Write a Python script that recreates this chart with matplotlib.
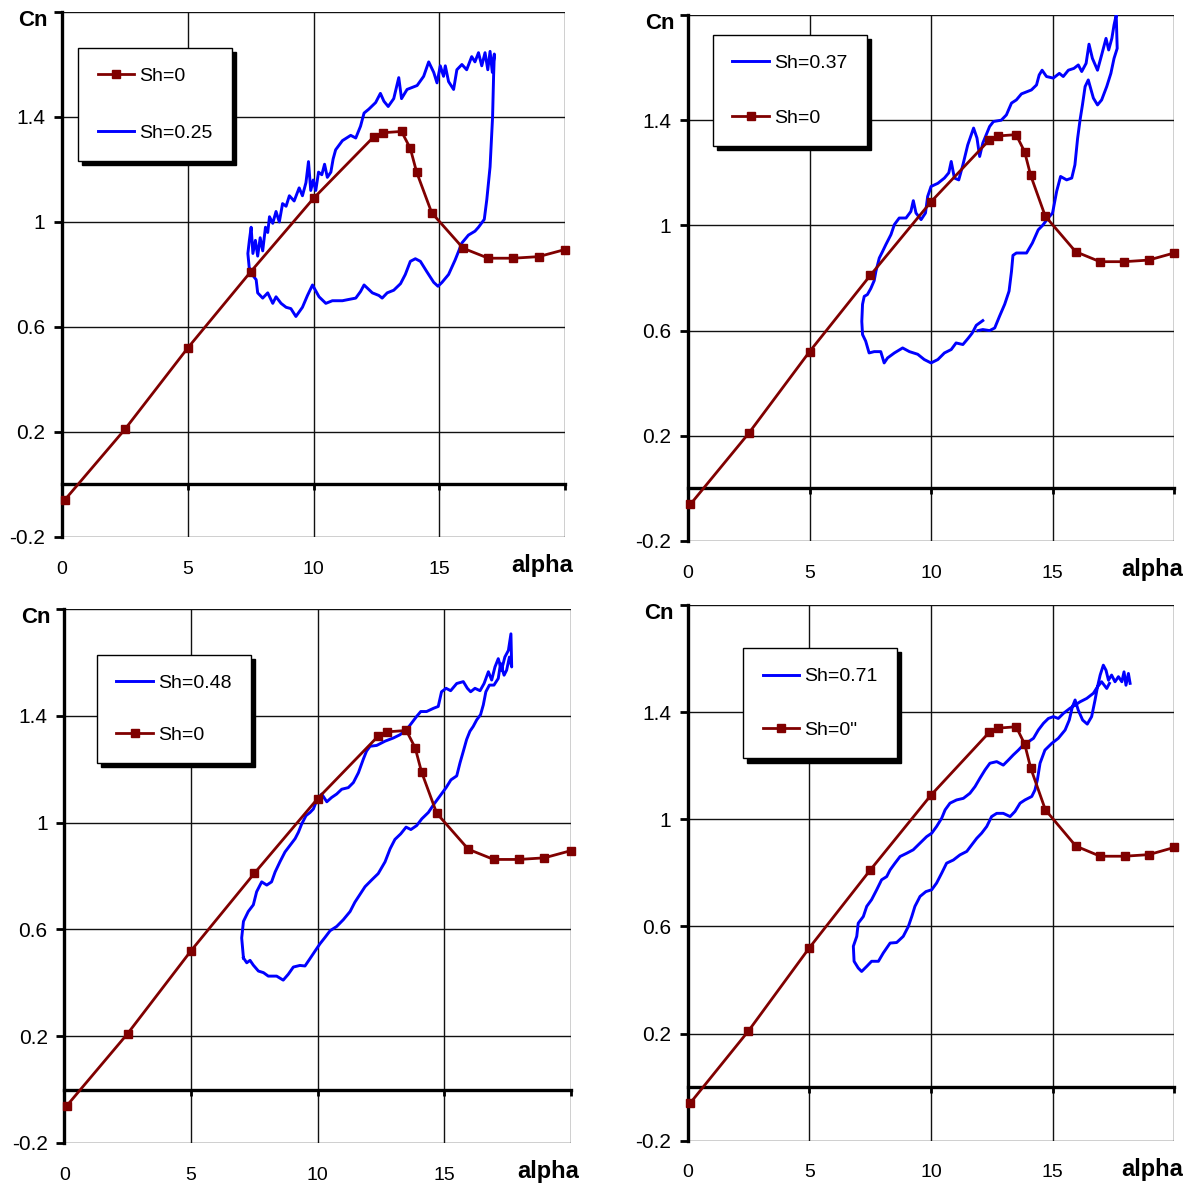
"""
Four panels: normal force coefficient Cn vs angle of attack alpha,
static curve (Sh=0) against dynamic hysteresis loops for several Sh.
"""

import matplotlib.pyplot as plt

plt.rcParams["font.family"] = ["Liberation Sans", "DejaVu Sans"]

BLUE = "#0000ff"
BROWN = "#800000"

ALPHA_TICKS = [0, 5, 10, 15, 20]
ALPHA_TICK_LABELS = ["0", "5", "10", "15"]
CN_TICKS = [-0.2, 0.2, 0.6, 1.0, 1.4, 1.8]
CN_TICK_LABELS = ["-0.2", "0.2", "0.6", "1", "1.4", ""]

# ----- static curve, Sh = 0 -----
SH0_ALPHA = [0.1, 2.5, 5.0, 7.5, 10.0, 12.4, 12.75, 13.5, 13.85, 14.1,
             14.7, 15.95, 16.95, 17.95, 18.95, 20.0]
SH0_CN = [-0.06, 0.21, 0.52, 0.81, 1.09, 1.325, 1.34, 1.345, 1.28, 1.19,
          1.035, 0.90, 0.862, 0.862, 0.868, 0.895]

# ----- Sh = 0.25 -----
SH025_ALPHA = [7.45, 7.39, 7.45, 7.52, 7.59, 7.69, 7.78, 7.88, 7.98, 8.09,
               8.18, 8.25, 8.38, 8.51, 8.64, 8.77, 8.91, 9.04, 9.23, 9.43,
               9.56, 9.70, 9.80, 9.89, 9.99, 10.09, 10.20, 10.33, 10.44, 10.55,
               10.69, 10.78, 10.88, 11.15, 11.48, 11.68, 11.87, 12.01, 12.20, 12.47,
               12.66, 12.80, 12.97, 13.19, 13.39, 13.50, 13.72, 14.12, 14.38, 14.58,
               14.78, 14.91, 15.04, 15.17, 15.24, 15.37, 15.57, 15.70, 15.90, 16.09,
               16.29, 16.42, 16.56, 16.69, 16.82, 16.93, 17.02, 17.11, 17.19, 17.16,
               17.12, 17.02, 16.89, 16.79, 16.56, 16.42, 16.16, 15.90, 15.63, 15.37,
               15.11, 14.95, 14.78, 14.51, 14.25, 14.05, 13.85, 13.65, 13.46, 13.19,
               12.93, 12.73, 12.60, 12.34, 12.01, 11.87, 11.68, 11.41, 11.15, 10.75,
               10.49, 10.22, 9.96, 9.76, 9.56, 9.30, 9.10, 8.91, 8.71, 8.51,
               8.38, 8.18, 7.98, 7.78, 7.72, 7.52, 7.45]
SH025_CN = [0.82, 0.88, 0.93, 0.98, 0.88, 0.93, 0.87, 0.94, 0.89, 0.98,
            0.96, 1.02, 0.995, 1.04, 1.00, 1.07, 1.06, 1.10, 1.08, 1.13,
            1.10, 1.15, 1.23, 1.12, 1.16, 1.12, 1.19, 1.18, 1.22, 1.17,
            1.19, 1.24, 1.275, 1.31, 1.33, 1.32, 1.365, 1.415, 1.43, 1.455,
            1.49, 1.46, 1.44, 1.47, 1.55, 1.47, 1.505, 1.52, 1.555, 1.61,
            1.57, 1.53, 1.595, 1.555, 1.595, 1.535, 1.505, 1.58, 1.60, 1.58,
            1.63, 1.61, 1.645, 1.595, 1.645, 1.58, 1.65, 1.57, 1.64, 1.555,
            1.40, 1.21, 1.085, 1.01, 0.98, 0.965, 0.95, 0.92, 0.855, 0.80,
            0.77, 0.755, 0.77, 0.81, 0.85, 0.86, 0.85, 0.80, 0.765, 0.74,
            0.73, 0.71, 0.72, 0.73, 0.76, 0.735, 0.71, 0.705, 0.70, 0.70,
            0.69, 0.715, 0.76, 0.72, 0.675, 0.64, 0.67, 0.675, 0.69, 0.715,
            0.69, 0.73, 0.71, 0.73, 0.78, 0.805, 0.82]

# ----- Sh = 0.37 -----
SH037_ALPHA = [12.13, 11.86, 11.69, 11.52, 11.31, 11.03, 10.83, 10.55, 10.28, 10.0,
               9.72, 9.45, 9.11, 8.83, 8.49, 8.21, 8.07, 7.93, 7.66, 7.45,
               7.31, 7.18, 7.15, 7.18, 7.25, 7.38, 7.52, 7.66, 7.73, 7.87,
               8.0, 8.14, 8.35, 8.49, 8.69, 8.97, 9.17, 9.27, 9.38, 9.59,
               9.77, 9.86, 10.0, 10.28, 10.55, 10.73, 10.83, 10.96, 11.14, 11.31,
               11.51, 11.75, 11.89, 12.0, 12.13, 12.41, 12.57, 12.89, 13.10, 13.31,
               13.51, 13.72, 14.13, 14.34, 14.45, 14.57, 14.75, 15.03, 15.28, 15.44,
               15.65, 15.88, 16.06, 16.20, 16.38, 16.50, 16.64, 16.85, 17.02, 17.20,
               17.31, 17.44, 17.53, 17.62, 17.66, 17.53, 17.40, 17.23, 17.02, 16.85,
               16.68, 16.47, 16.34, 16.23, 16.13, 16.03, 15.92, 15.79, 15.58, 15.33,
               15.17, 15.0, 14.82, 14.59, 14.41, 14.17, 13.93, 13.51, 13.37, 13.31,
               13.21, 13.03, 12.82, 12.62, 12.41, 12.13, 11.93]
SH037_CN = [0.638, 0.62, 0.59, 0.57, 0.547, 0.553, 0.528, 0.515, 0.49, 0.477,
            0.49, 0.51, 0.52, 0.534, 0.515, 0.496, 0.477, 0.52, 0.52, 0.515,
            0.56, 0.585, 0.635, 0.70, 0.73, 0.737, 0.76, 0.79, 0.825, 0.876,
            0.90, 0.927, 0.965, 1.003, 1.028, 1.028, 1.053, 1.094, 1.047, 1.022,
            1.047, 1.11, 1.148, 1.16, 1.18, 1.20, 1.243, 1.18, 1.173, 1.23,
            1.306, 1.37, 1.332, 1.262, 1.313, 1.376, 1.395, 1.40, 1.42, 1.465,
            1.477, 1.50, 1.515, 1.534, 1.572, 1.59, 1.566, 1.56, 1.578, 1.566,
            1.59, 1.597, 1.61, 1.585, 1.616, 1.689, 1.635, 1.59, 1.648, 1.711,
            1.667, 1.711, 1.762, 1.80, 1.673, 1.635, 1.578, 1.528, 1.477, 1.458,
            1.484, 1.553, 1.528, 1.458, 1.40, 1.33, 1.23, 1.18, 1.173, 1.186,
            1.13, 1.047, 1.028, 1.0, 0.983, 0.933, 0.895, 0.895, 0.886, 0.825,
            0.75, 0.70, 0.655, 0.61, 0.60, 0.604, 0.60]

# ----- Sh = 0.48 -----
SH048_ALPHA = [7.07, 7.0, 7.07, 7.26, 7.46, 7.59, 7.79, 7.99, 8.18, 8.32,
               8.51, 8.71, 8.91, 9.11, 9.24, 9.37, 9.54, 9.70, 9.83, 9.96,
               10.16, 10.36, 10.55, 10.75, 10.95, 11.21, 11.41, 11.61, 11.80, 11.93,
               12.07, 12.33, 12.66, 12.99, 13.25, 13.51, 13.71, 13.91, 14.07, 14.30,
               14.57, 14.76, 14.89, 15.07, 15.25, 15.49, 15.75, 15.91, 16.04, 16.21,
               16.41, 16.57, 16.74, 16.87, 17.0, 17.13, 17.26, 17.39, 17.53, 17.63,
               17.66, 17.57, 17.46, 17.36, 17.22, 17.13, 16.96, 16.78, 16.64, 16.54,
               16.43, 16.28, 16.14, 16.01, 15.88, 15.75, 15.62, 15.49, 15.26, 15.07,
               14.83, 14.59, 14.37, 14.11, 13.91, 13.68, 13.49, 13.28, 13.05, 12.86,
               12.66, 12.39, 12.13, 11.87, 11.67, 11.47, 11.28, 11.01, 10.75, 10.49,
               10.29, 10.09, 9.89, 9.70, 9.50, 9.30, 9.04, 8.84, 8.64, 8.38,
               8.05, 7.86, 7.66, 7.46, 7.33, 7.20, 7.07]
SH048_CN = [0.493, 0.568, 0.63, 0.667, 0.692, 0.741, 0.778, 0.766, 0.778, 0.815,
            0.853, 0.89, 0.915, 0.94, 0.964, 0.995, 1.026, 1.038, 1.051, 1.082,
            1.107, 1.078, 1.094, 1.107, 1.125, 1.131, 1.15, 1.187, 1.237, 1.268,
            1.286, 1.289, 1.305, 1.317, 1.329, 1.348, 1.373, 1.398, 1.416, 1.416,
            1.428, 1.435, 1.49, 1.503, 1.494, 1.521, 1.528, 1.503, 1.49, 1.503,
            1.494, 1.521, 1.565, 1.534, 1.583, 1.614, 1.571, 1.62, 1.645, 1.707,
            1.583, 1.62, 1.571, 1.552, 1.596, 1.54, 1.515, 1.515, 1.49, 1.441,
            1.404, 1.385, 1.36, 1.342, 1.311, 1.267, 1.224, 1.175, 1.16, 1.131,
            1.10, 1.069, 1.038, 1.014, 0.989, 0.974, 0.983, 0.958, 0.937, 0.902,
            0.853, 0.809, 0.785, 0.76, 0.731, 0.702, 0.667, 0.636, 0.611, 0.595,
            0.57, 0.546, 0.518, 0.491, 0.463, 0.465, 0.459, 0.432, 0.41, 0.425,
            0.425, 0.438, 0.444, 0.466, 0.484, 0.475, 0.493]

# ----- Sh = 0.71 -----
SH071_ALPHA = [18.18, 18.11, 18.01, 17.93, 17.84, 17.70, 17.56, 17.42, 17.29, 17.19,
               17.08, 16.95, 16.84, 16.67, 16.40, 16.12, 15.92, 15.71, 15.44, 15.23,
               15.03, 14.82, 14.62, 14.41, 14.21, 14.0, 13.79, 13.59, 13.38, 13.18,
               12.97, 12.70, 12.42, 12.22, 12.01, 11.81, 11.60, 11.33, 11.05, 10.78,
               10.58, 10.44, 10.23, 10.03, 9.82, 9.55, 9.27, 9.0, 8.73, 8.52,
               8.32, 8.18, 7.97, 7.77, 7.56, 7.36, 7.22, 7.01, 6.95, 6.81,
               6.84, 7.01, 7.15, 7.36, 7.56, 7.84, 8.04, 8.32, 8.59, 8.86,
               9.07, 9.21, 9.34, 9.55, 9.79, 10.03, 10.23, 10.44, 10.64, 10.92,
               11.19, 11.47, 11.67, 11.88, 12.08, 12.29, 12.49, 12.70, 12.97, 13.25,
               13.45, 13.66, 13.86, 14.14, 14.27, 14.37, 14.48, 14.68, 14.96, 15.23,
               15.51, 15.68, 15.81, 15.92, 16.05, 16.23, 16.42, 16.60, 16.74, 16.84,
               17.01, 17.22, 17.33]
SH071_CN = [1.507, 1.544, 1.50, 1.55, 1.513, 1.532, 1.513, 1.538, 1.519, 1.556,
            1.575, 1.538, 1.494, 1.47, 1.451, 1.438, 1.426, 1.414, 1.395, 1.376,
            1.383, 1.376, 1.358, 1.333, 1.302, 1.289, 1.277, 1.258, 1.24, 1.221,
            1.202, 1.215, 1.209, 1.184, 1.153, 1.122, 1.097, 1.078, 1.072, 1.06,
            1.035, 1.004, 0.973, 0.948, 0.935, 0.911, 0.886, 0.873, 0.861, 0.836,
            0.811, 0.786, 0.774, 0.737, 0.70, 0.675, 0.637, 0.612, 0.563, 0.526,
            0.47, 0.445, 0.432, 0.451, 0.47, 0.47, 0.501, 0.538, 0.54, 0.563,
            0.60, 0.637, 0.675, 0.712, 0.73, 0.737, 0.762, 0.799, 0.836, 0.848,
            0.867, 0.88, 0.904, 0.929, 0.948, 0.973, 1.01, 1.022, 1.022, 1.01,
            1.029, 1.06, 1.072, 1.085, 1.109, 1.147, 1.209, 1.258, 1.283, 1.302,
            1.333, 1.37, 1.42, 1.445, 1.407, 1.37, 1.355, 1.383, 1.445, 1.494,
            1.513, 1.488, 1.507]

# axes rectangles (figure fraction), legend anchor, label spacing
PANELS = [
    dict(rect=[0.0521, 0.5484, 0.4227, 0.4415], alpha=SH025_ALPHA, cn=SH025_CN,
         label="Sh=0.25", static="Sh=0", blue_first=False,
         anchor=(0.032, 0.931), spacing=2.0),
    dict(rect=[0.5782, 0.5450, 0.4084, 0.4424], alpha=SH037_ALPHA, cn=SH037_CN,
         label="Sh=0.37", static="Sh=0", blue_first=True,
         anchor=(0.051, 0.962), spacing=1.9),
    dict(rect=[0.0541, 0.0387, 0.4257, 0.4491], alpha=SH048_ALPHA, cn=SH048_CN,
         label="Sh=0.48", static="Sh=0", blue_first=True,
         anchor=(0.064, 0.914), spacing=1.75),
    dict(rect=[0.5778, 0.0405, 0.4091, 0.4508], alpha=SH071_ALPHA, cn=SH071_CN,
         label="Sh=0.71", static='Sh=0"', blue_first=True,
         anchor=(0.114, 0.919), spacing=1.85),
]


def style_axes(ax):
    ax.set_xlim(0, 20)
    ax.set_ylim(-0.2, 1.8)
    ax.set_xticks(ALPHA_TICKS)
    ax.set_yticks(CN_TICKS)
    ax.set_yticklabels(CN_TICK_LABELS)
    ax.grid(True, color="#111111", lw=1.0)
    ax.set_axisbelow(True)
    for s in ("top", "right"):
        ax.spines[s].set_visible(False)
    ax.spines["left"].set_linewidth(2.4)
    ax.spines["bottom"].set_position(("data", 0))
    ax.spines["bottom"].set_linewidth(2.4)
    ax.tick_params(axis="y", direction="out", length=6, width=2,
                   labelsize=15, pad=6)
    ax.tick_params(axis="x", direction="out", length=4, width=2,
                   labelbottom=False)
    ax.annotate("Cn", (0, 1.8), xytext=(-10, -6), textcoords="offset points",
                ha="right", va="center", fontsize=16, fontweight="bold",
                annotation_clip=False)
    for a, t in zip(ALPHA_TICKS, ALPHA_TICK_LABELS):
        ax.annotate(t, (a, -0.2), xytext=(0, -17), textcoords="offset points",
                    ha="center", va="top", fontsize=14, annotation_clip=False)
    ax.annotate("alpha", (19.1, -0.2), xytext=(0, -12),
                textcoords="offset points", ha="center", va="top",
                fontsize=17, fontweight="bold", annotation_clip=False)


def draw_panel(ax, p):
    style_axes(ax)
    blue, = ax.plot(p["alpha"], p["cn"], color=BLUE, lw=2.1, zorder=3,
                    label=p["label"])
    brown, = ax.plot(SH0_ALPHA, SH0_CN, color=BROWN, lw=2.0, marker="s",
                     ms=6, zorder=4, clip_on=False, label=p["static"])
    handles = [blue, brown] if p["blue_first"] else [brown, blue]
    leg = ax.legend(handles=handles, loc="upper left",
                    bbox_to_anchor=p["anchor"], borderaxespad=0,
                    fancybox=False, edgecolor="black", framealpha=1,
                    shadow={"color": "black", "alpha": 1, "ox": 3, "oy": -3},
                    fontsize=14, labelspacing=p["spacing"], borderpad=1.0,
                    handlelength=1.9, handletextpad=0.25)
    leg.get_frame().set_linewidth(1.0)


def main():
    fig = plt.figure(figsize=(11.9, 11.89), dpi=100)
    for p in PANELS:
        ax = fig.add_axes(p["rect"])
        draw_panel(ax, p)
    fig.savefig("out.png", dpi=100)


if __name__ == "__main__":
    main()
